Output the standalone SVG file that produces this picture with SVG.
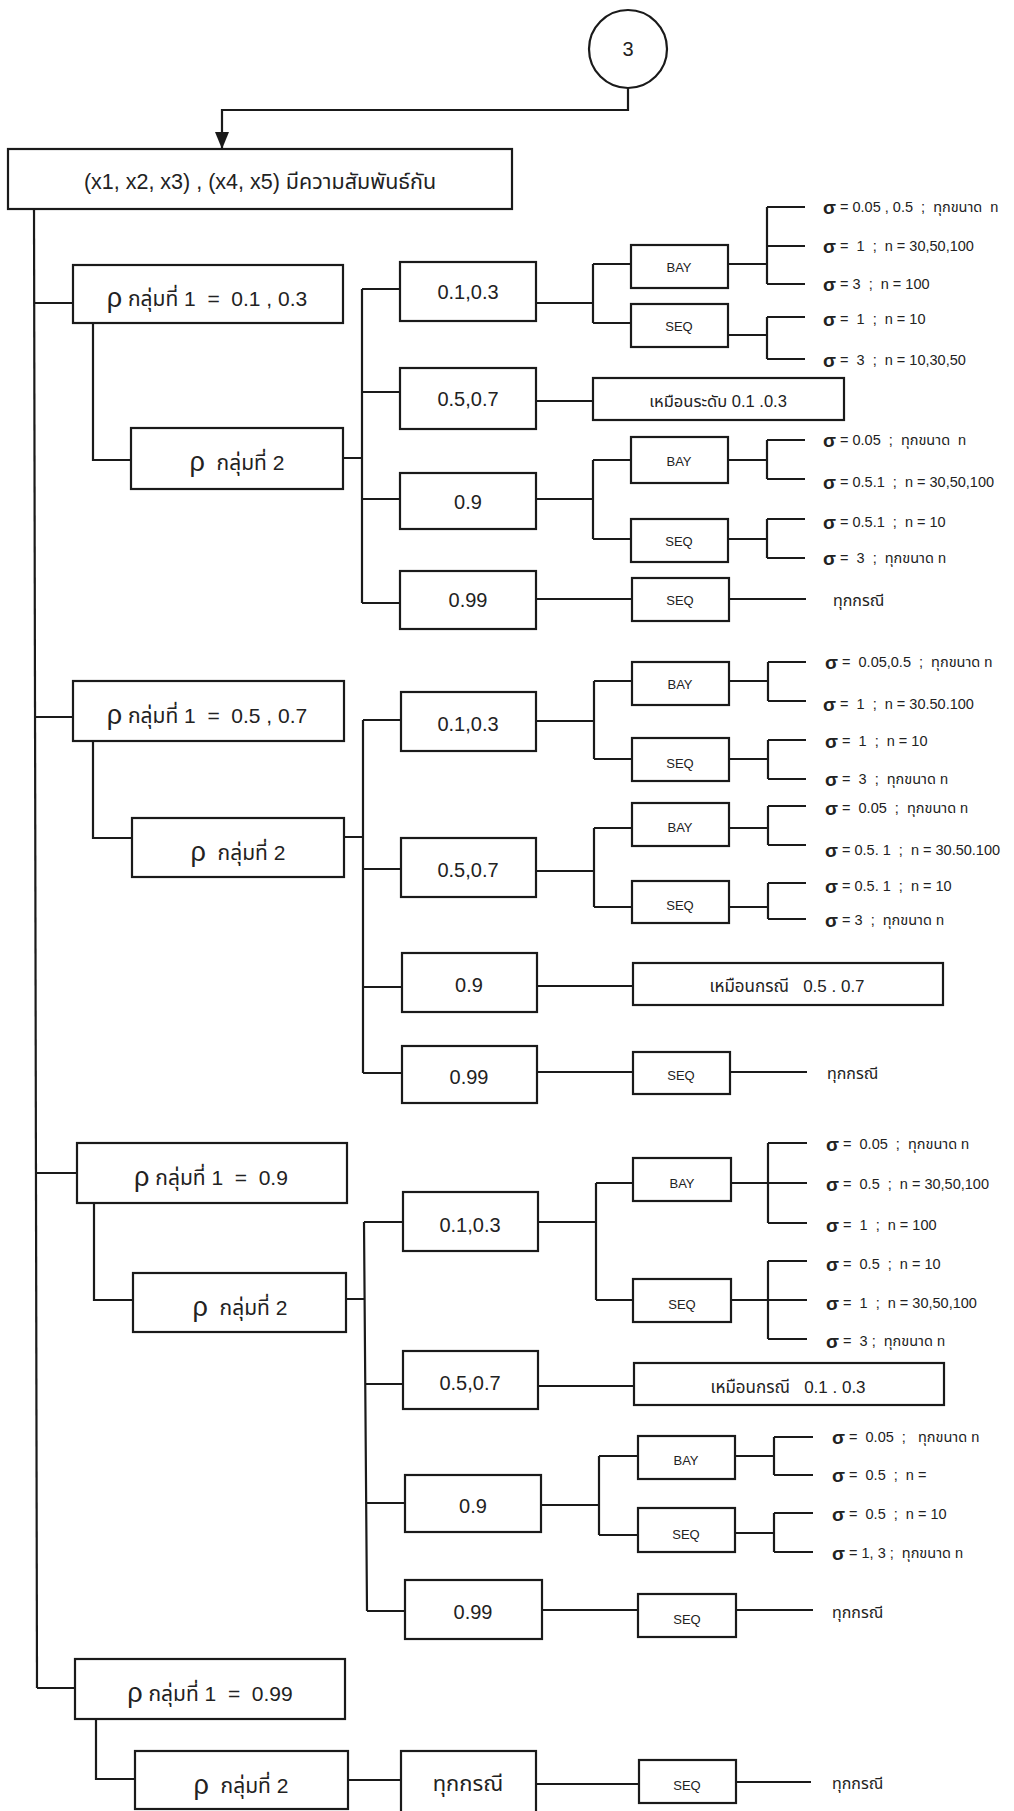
<svg xmlns="http://www.w3.org/2000/svg" width="1014" height="1811" viewBox="0 0 1014 1811" xml:space="preserve">
<defs>
<style>
.b{fill:#fff;stroke:#1a1a1a;stroke-width:2.2}
.c{fill:none;stroke:#1a1a1a;stroke-width:2.2}
text{font-family:"Liberation Sans","Noto Sans Thai","Noto Sans",sans-serif;fill:#222;white-space:pre;dominant-baseline:central}
.t1{font-size:21.5px;text-anchor:middle}
.tr{font-size:21px;text-anchor:middle}
.rho{font-size:27px}
.t3{font-size:20px;text-anchor:middle}
.t4{font-size:22px;text-anchor:middle}
.bs{font-size:13px;text-anchor:middle}
.sg{font-size:14.5px}
.sig{font-size:19px;font-weight:bold}
.sm{font-size:16.5px;text-anchor:middle}
.sm2{font-size:17px;text-anchor:middle}
.all{font-size:16px}
</style>
<marker id="ah" markerWidth="18" markerHeight="14" refX="17" refY="7" orient="auto" markerUnits="userSpaceOnUse" viewBox="0 0 18 14">
<path d="M0 0 L17 7 L0 14 Z" fill="#1a1a1a"/>
</marker>
</defs>
<rect width="1014" height="1811" fill="#fff"/>
<g id="connectors">
<path class="c" d="M628 88 V110 H222 V149" marker-end="url(#ah)"/>
<path class="c" d="M34 209 L37 1688"/>
<path class="c" d="M34 303 H73 M93 323 V460 H131 M343 458 H362 M362 289 V603 M362 289 H400 M362 392 H400 M362 499 H400 M362 603 H400"/>
<path class="c" d="M536 303 H593 M593 264 V323 M593 264 H631 M593 323 H631 M728 264 H767 M767 207 V284 M767 207 H805 M767 246 H805 M767 284 H805 M728 335 H767 M767 317 V359 M767 317 H805 M767 359 H805"/>
<path class="c" d="M536 401 H593"/>
<path class="c" d="M536 499 H593 M593 460 V539 M593 460 H631 M593 539 H631 M728 460 H767 M767 440 V479 M767 440 H805 M767 479 H805 M728 539 H767 M767 519 V558 M767 519 H805 M767 558 H805"/>
<path class="c" d="M536 599 H632 M729 599 H806"/>
<path class="c" d="M35 717 H73 M93 741 V838 H132 M344 837 H363 M363 720 V1073 M363 720 H401 M363 869 H401 M363 987 H401 M363 1073 H401"/>
<path class="c" d="M536 721 H594 M594 681 V759 M594 681 H632 M594 759 H632 M729 681 H768 M768 662 V701 M768 662 H806 M768 701 H806 M729 759 H768 M768 740 V779 M768 740 H806 M768 779 H806"/>
<path class="c" d="M536 871 H594 M594 828 V907 M594 828 H632 M594 907 H632 M729 828 H768 M768 806 V845 M768 806 H806 M768 845 H806 M729 907 H768 M768 883 V919 M768 883 H806 M768 919 H806"/>
<path class="c" d="M537 986 H633 M537 1072 H633 M730 1072 H807"/>
<path class="c" d="M36 1173 H77 M94 1203 V1300 H133 M346 1299 H364 M364 1222 L367 1611 M364 1222 H403 M365 1384 H403 M366 1503 H405 M367 1611 H405"/>
<path class="c" d="M538 1222 H596 M596 1183 V1300 M596 1183 H633 M596 1300 H633 M731 1183 H768 M768 1143 V1223 M768 1143 H807 M768 1183 H807 M768 1223 H807 M731 1300 H768 M768 1261 V1339 M768 1261 H807 M768 1300 H807 M768 1339 H807"/>
<path class="c" d="M538 1386 H634"/>
<path class="c" d="M541 1505 H599 M599 1456 V1535 M599 1456 H638 M599 1535 H638 M735 1456 H774 M774 1437 V1475 M774 1437 H813 M774 1475 H813 M735 1533 H774 M774 1513 V1552 M774 1513 H813 M774 1552 H813"/>
<path class="c" d="M542 1610 H638 M736 1610 H813"/>
<path class="c" d="M37 1688 H75 M96 1719 V1779 H135 M348 1780 H401 M536 1784 H639 M736 1782 H811"/>
</g>
<g id="start"><circle class="b" cx="628" cy="49" r="39"/><text class="t3" x="628" y="49">3</text></g>
<g id="root"><rect class="b" x="8" y="149" width="504" height="60"/><text class="t1" x="260" y="182">(x1, x2, x3) , (x4, x5) มีความสัมพันธ์กัน</text></g>
<g id="g1-r1"><rect class="b" x="73" y="265" width="270" height="58"/><text class="tr" x="207" y="298"><tspan class="rho">ρ</tspan> กลุ่มที่ 1  =  0.1 , 0.3</text></g>
<g id="g1-r2"><rect class="b" x="131" y="428" width="212" height="61"/><text class="tr" x="237" y="462"><tspan class="rho">ρ</tspan>  กลุ่มที่ 2</text></g>
<g id="g1-a"><rect class="b" x="400" y="262" width="136" height="59"/><text class="t3" x="468" y="292">0.1,0.3</text></g>
<g id="g1-b"><rect class="b" x="400" y="368" width="136" height="61"/><text class="t3" x="468" y="399">0.5,0.7</text></g>
<g id="g1-c"><rect class="b" x="400" y="473" width="136" height="56"/><text class="t3" x="468" y="502">0.9</text></g>
<g id="g1-d"><rect class="b" x="400" y="571" width="136" height="58"/><text class="t3" x="468" y="600">0.99</text></g>
<g id="g1-a-bay"><rect class="b" x="631" y="245" width="97" height="43"/><text class="bs" x="679" y="267">BAY</text></g>
<g id="g1-a-seq"><rect class="b" x="631" y="304" width="97" height="43"/><text class="bs" x="679" y="326">SEQ</text></g>
<g id="g1-b-same"><rect class="b" x="593" y="378" width="251" height="42"/><text class="sm" x="718" y="401">เหมือนระดับ 0.1 .0.3</text></g>
<g id="g1-c-bay"><rect class="b" x="631" y="437" width="97" height="46"/><text class="bs" x="679" y="461">BAY</text></g>
<g id="g1-c-seq"><rect class="b" x="631" y="519" width="97" height="43"/><text class="bs" x="679" y="541">SEQ</text></g>
<g id="g1-d-seq"><rect class="b" x="632" y="578" width="97" height="43"/><text class="bs" x="680" y="600">SEQ</text></g>
<g id="g1-leaves">
<text class="sg" x="823" y="207"><tspan class="sig">σ</tspan> = 0.05 , 0.5  ;  ทุกขนาด  n</text>
<text class="sg" x="823" y="246"><tspan class="sig">σ</tspan> =  1  ;  n = 30,50,100</text>
<text class="sg" x="823" y="284"><tspan class="sig">σ</tspan> = 3  ;  n = 100</text>
<text class="sg" x="823" y="319"><tspan class="sig">σ</tspan> =  1  ;  n = 10</text>
<text class="sg" x="823" y="360"><tspan class="sig">σ</tspan> =  3  ;  n = 10,30,50</text>
<text class="sg" x="823" y="440"><tspan class="sig">σ</tspan> = 0.05  ;  ทุกขนาด  n</text>
<text class="sg" x="823" y="482"><tspan class="sig">σ</tspan> = 0.5.1  ;  n = 30,50,100</text>
<text class="sg" x="823" y="522"><tspan class="sig">σ</tspan> = 0.5.1  ;  n = 10</text>
<text class="sg" x="823" y="558"><tspan class="sig">σ</tspan> =  3  ;  ทุกขนาด n</text>
<text class="all" x="833" y="600">ทุกกรณี</text>
</g>
<g id="g2-r1"><rect class="b" x="73" y="681" width="271" height="60"/><text class="tr" x="207" y="715"><tspan class="rho">ρ</tspan> กลุ่มที่ 1  =  0.5 , 0.7</text></g>
<g id="g2-r2"><rect class="b" x="132" y="818" width="212" height="59"/><text class="tr" x="238" y="852"><tspan class="rho">ρ</tspan>  กลุ่มที่ 2</text></g>
<g id="g2-a"><rect class="b" x="401" y="692" width="135" height="59"/><text class="t3" x="468" y="724">0.1,0.3</text></g>
<g id="g2-b"><rect class="b" x="401" y="838" width="135" height="59"/><text class="t3" x="468" y="870">0.5,0.7</text></g>
<g id="g2-c"><rect class="b" x="402" y="953" width="135" height="59"/><text class="t3" x="469" y="985">0.9</text></g>
<g id="g2-d"><rect class="b" x="402" y="1046" width="135" height="57"/><text class="t3" x="469" y="1077">0.99</text></g>
<g id="g2-a-bay"><rect class="b" x="632" y="662" width="97" height="43"/><text class="bs" x="680" y="684">BAY</text></g>
<g id="g2-a-seq"><rect class="b" x="632" y="738" width="97" height="43"/><text class="bs" x="680" y="763">SEQ</text></g>
<g id="g2-b-bay"><rect class="b" x="632" y="803" width="97" height="43"/><text class="bs" x="680" y="827">BAY</text></g>
<g id="g2-b-seq"><rect class="b" x="632" y="881" width="97" height="42"/><text class="bs" x="680" y="905">SEQ</text></g>
<g id="g2-c-same"><rect class="b" x="633" y="963" width="310" height="42"/><text class="sm2" x="787" y="986">เหมือนกรณี   0.5 . 0.7</text></g>
<g id="g2-d-seq"><rect class="b" x="633" y="1052" width="97" height="42"/><text class="bs" x="681" y="1075">SEQ</text></g>
<g id="g2-leaves">
<text class="sg" x="825" y="662"><tspan class="sig">σ</tspan> =  0.05,0.5  ;  ทุกขนาด n</text>
<text class="sg" x="823" y="704"><tspan class="sig">σ</tspan> =  1  ;  n = 30.50.100</text>
<text class="sg" x="825" y="741"><tspan class="sig">σ</tspan> =  1  ;  n = 10</text>
<text class="sg" x="825" y="779"><tspan class="sig">σ</tspan> =  3  ;  ทุกขนาด n</text>
<text class="sg" x="825" y="808"><tspan class="sig">σ</tspan> =  0.05  ;  ทุกขนาด n</text>
<text class="sg" x="825" y="850"><tspan class="sig">σ</tspan> = 0.5. 1  ;  n = 30.50.100</text>
<text class="sg" x="825" y="886"><tspan class="sig">σ</tspan> = 0.5. 1  ;  n = 10</text>
<text class="sg" x="825" y="920"><tspan class="sig">σ</tspan> = 3  ;  ทุกขนาด n</text>
<text class="all" x="827" y="1073">ทุกกรณี</text>
</g>
<g id="g3-r1"><rect class="b" x="77" y="1143" width="270" height="60"/><text class="tr" x="211" y="1177"><tspan class="rho">ρ</tspan> กลุ่มที่ 1  =  0.9</text></g>
<g id="g3-r2"><rect class="b" x="133" y="1273" width="213" height="59"/><text class="tr" x="240" y="1307"><tspan class="rho">ρ</tspan>  กลุ่มที่ 2</text></g>
<g id="g3-a"><rect class="b" x="403" y="1192" width="135" height="59"/><text class="t3" x="470" y="1225">0.1,0.3</text></g>
<g id="g3-b"><rect class="b" x="403" y="1351" width="135" height="58"/><text class="t3" x="470" y="1383">0.5,0.7</text></g>
<g id="g3-c"><rect class="b" x="405" y="1475" width="136" height="57"/><text class="t3" x="473" y="1506">0.9</text></g>
<g id="g3-d"><rect class="b" x="405" y="1580" width="137" height="59"/><text class="t3" x="473" y="1612">0.99</text></g>
<g id="g3-a-bay"><rect class="b" x="633" y="1158" width="98" height="43"/><text class="bs" x="682" y="1183">BAY</text></g>
<g id="g3-a-seq"><rect class="b" x="633" y="1279" width="98" height="43"/><text class="bs" x="682" y="1304">SEQ</text></g>
<g id="g3-b-same"><rect class="b" x="634" y="1363" width="310" height="42"/><text class="sm2" x="788" y="1387">เหมือนกรณี   0.1 . 0.3</text></g>
<g id="g3-c-bay"><rect class="b" x="638" y="1436" width="97" height="43"/><text class="bs" x="686" y="1460">BAY</text></g>
<g id="g3-c-seq"><rect class="b" x="638" y="1508" width="97" height="44"/><text class="bs" x="686" y="1534">SEQ</text></g>
<g id="g3-d-seq"><rect class="b" x="638" y="1594" width="98" height="43"/><text class="bs" x="687" y="1619">SEQ</text></g>
<g id="g3-leaves">
<text class="sg" x="826" y="1144"><tspan class="sig">σ</tspan> =  0.05  ;  ทุกขนาด n</text>
<text class="sg" x="826" y="1184"><tspan class="sig">σ</tspan> =  0.5  ;  n = 30,50,100</text>
<text class="sg" x="826" y="1225"><tspan class="sig">σ</tspan> =  1  ;  n = 100</text>
<text class="sg" x="826" y="1264"><tspan class="sig">σ</tspan> =  0.5  ;  n = 10</text>
<text class="sg" x="826" y="1303"><tspan class="sig">σ</tspan> =  1  ;  n = 30,50,100</text>
<text class="sg" x="826" y="1341"><tspan class="sig">σ</tspan> =  3 ;  ทุกขนาด n</text>
<text class="sg" x="832" y="1437"><tspan class="sig">σ</tspan> =  0.05  ;   ทุกขนาด n</text>
<text class="sg" x="832" y="1475"><tspan class="sig">σ</tspan> =  0.5  ;  n =</text>
<text class="sg" x="832" y="1514"><tspan class="sig">σ</tspan> =  0.5  ;  n = 10</text>
<text class="sg" x="832" y="1553"><tspan class="sig">σ</tspan> = 1, 3 ;  ทุกขนาด n</text>
<text class="all" x="832" y="1612">ทุกกรณี</text>
</g>
<g id="g4-r1"><rect class="b" x="75" y="1659" width="270" height="60"/><text class="tr" x="210" y="1693"><tspan class="rho">ρ</tspan> กลุ่มที่ 1  =  0.99</text></g>
<g id="g4-r2"><rect class="b" x="135" y="1751" width="213" height="58"/><text class="tr" x="241" y="1785"><tspan class="rho">ρ</tspan>  กลุ่มที่ 2</text></g>
<g id="g4-a"><rect class="b" x="401" y="1751" width="135" height="70"/><text class="t4" x="468" y="1783">ทุกกรณี</text></g>
<g id="g4-a-seq"><rect class="b" x="639" y="1760" width="97" height="43"/><text class="bs" x="687" y="1785">SEQ</text></g>
<g id="g4-leaves"><text class="all" x="832" y="1783">ทุกกรณี</text></g>
</svg>
